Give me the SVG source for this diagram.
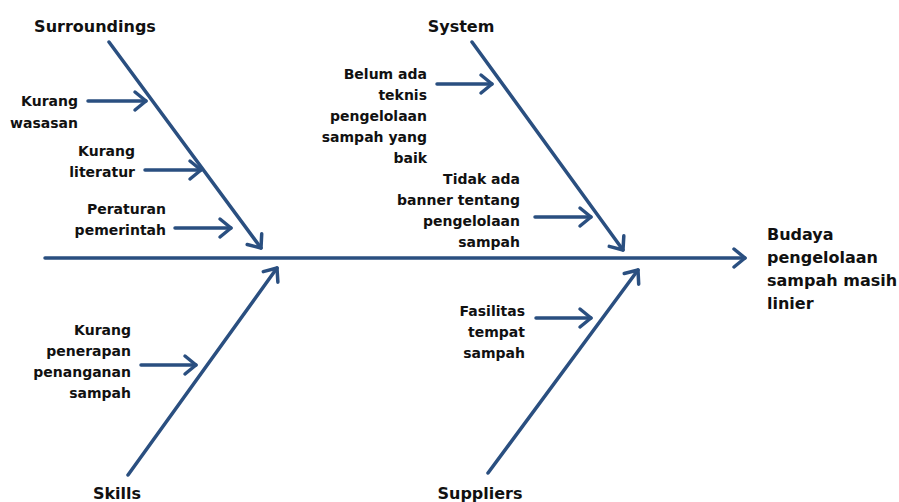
<svg xmlns="http://www.w3.org/2000/svg" width="899" height="502" viewBox="0 0 899 502">
<style>
.l{stroke:#2a4f80;stroke-width:3.5;fill:none;stroke-linecap:round;marker-end:url(#ah)}
.t{font-family:"DejaVu Sans",sans-serif;font-size:14px;font-weight:bold;fill:#111;text-anchor:end}
.h{font-family:"DejaVu Sans",sans-serif;font-size:16px;font-weight:bold;fill:#111;text-anchor:middle}
.e{font-family:"DejaVu Sans",sans-serif;font-size:16px;font-weight:bold;fill:#111}
</style>
<defs>
<marker id="ah" markerUnits="userSpaceOnUse" markerWidth="30" markerHeight="30" refX="15" refY="15" orient="auto" viewBox="0 0 30 30">
<path d="M4,6 L15,15 L4,24" fill="none" stroke="#2a4f80" stroke-width="3.5" stroke-linecap="round" stroke-linejoin="round"/>
</marker>
</defs>
<g id="connectors">
<line class="l" x1="45" y1="258" x2="745" y2="258"/>
<line class="l" x1="109" y1="42" x2="261" y2="248"/>
<line class="l" x1="472" y1="42" x2="623" y2="250"/>
<line class="l" x1="128" y1="475" x2="277" y2="268"/>
<line class="l" x1="488" y1="473" x2="638" y2="270"/>
<line class="l" x1="88" y1="101" x2="146" y2="101"/>
<line class="l" x1="145" y1="170" x2="201" y2="170"/>
<line class="l" x1="175" y1="228" x2="231" y2="228"/>
<line class="l" x1="437" y1="84" x2="492" y2="84"/>
<line class="l" x1="535" y1="217" x2="591" y2="217"/>
<line class="l" x1="141" y1="365" x2="196" y2="365"/>
<line class="l" x1="536" y1="318" x2="591" y2="318"/>
</g>
<g id="surroundings"><text class="h" x="95" y="32">Surroundings</text></g>
<g id="system"><text class="h" x="461" y="32">System</text></g>
<g id="skills"><text class="h" x="117" y="499">Skills</text></g>
<g id="suppliers"><text class="h" x="480" y="499">Suppliers</text></g>
<g id="kurang-wasasan"><text class="t" x="78"><tspan x="78" y="106">Kurang</tspan><tspan x="78" y="128">wasasan</tspan></text></g>
<g id="kurang-literatur"><text class="t"><tspan x="135" y="156">Kurang</tspan><tspan x="135" y="177">literatur</tspan></text></g>
<g id="peraturan"><text class="t"><tspan x="166" y="214">Peraturan</tspan><tspan x="166" y="235">pemerintah</tspan></text></g>
<g id="belum-ada"><text class="t"><tspan x="427" y="79">Belum ada</tspan><tspan x="427" y="100">teknis</tspan><tspan x="427" y="121">pengelolaan</tspan><tspan x="427" y="142">sampah yang</tspan><tspan x="427" y="163">baik</tspan></text></g>
<g id="tidak-ada"><text class="t"><tspan x="520" y="184">Tidak ada</tspan><tspan x="520" y="205">banner tentang</tspan><tspan x="520" y="226">pengelolaan</tspan><tspan x="520" y="247">sampah</tspan></text></g>
<g id="kurang-penerapan"><text class="t"><tspan x="131" y="335">Kurang</tspan><tspan x="131" y="356">penerapan</tspan><tspan x="131" y="377">penanganan</tspan><tspan x="131" y="398">sampah</tspan></text></g>
<g id="fasilitas"><text class="t"><tspan x="525" y="316">Fasilitas</tspan><tspan x="525" y="337">tempat</tspan><tspan x="525" y="358">sampah</tspan></text></g>
<g id="effect"><text class="e"><tspan x="767" y="240">Budaya</tspan><tspan x="767" y="263">pengelolaan</tspan><tspan x="767" y="286">sampah masih</tspan><tspan x="767" y="309">linier</tspan></text></g>
</svg>
